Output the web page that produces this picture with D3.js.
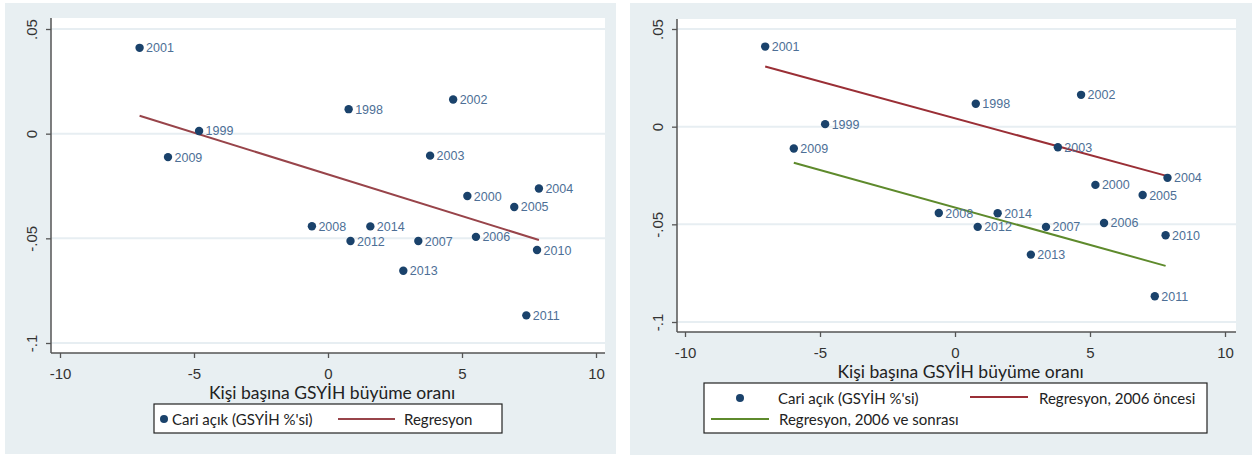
<!DOCTYPE html>
<html><head><meta charset="utf-8">
<script src="https://cdn.jsdelivr.net/npm/d3@7"></script>
<style>
body{margin:0;background:#fff}
svg{display:block}
</style>
</head><body>
<svg id="chart" width="1254" height="456"></svg>
<script>
// Current account balance vs. per-capita GDP growth, 1998-2014
const years   = [1998, 1999, 2000, 2001, 2002, 2003, 2004, 2005, 2006, 2007, 2008, 2009, 2010, 2011, 2012, 2013, 2014];
const growth  = [0.77, -4.81, 5.20, -7.03, 4.67, 3.81, 7.87, 6.95, 5.52, 3.37, -0.60, -5.97, 7.80, 7.40, 0.84, 2.81, 1.58];
const deficit = [0.0117, 0.0013, -0.0298, 0.0410, 0.0163, -0.0105, -0.0262, -0.0350, -0.0493, -0.0513, -0.0442, -0.0112, -0.0556, -0.0868, -0.0513, -0.0655, -0.0443];

const xTicks = [-10, -5, 0, 5, 10];
const xTickLabels = ["-10", "-5", "0", "5", "10"];
const yTicks = [0.05, 0, -0.05, -0.1];
const yTickLabels = [".05", "0", "-.05", "-.1"];
const xDomain = [-10, 10];
const yDomain = [-0.1, 0.05];

const xTitle = "Kişi başına GSYİH büyüme oranı";
const markerName = "Cari açık (GSYİH %'si)";
const fitNames = ["Regresyon", "Regresyon, 2006 öncesi", "Regresyon, 2006 ve sonrası"];

const navy = "#1a426b";
const labelColor = "#4d6f96";
const uiFont = "Lato, 'Open Sans', sans-serif";
const numFont = "'Liberation Sans', Arial, sans-serif";

const points = years.map((y, i) => ({year: y, x: growth[i], y: deficit[i]}));

// Ordinary least squares fit over a subset of points, drawn across its x range
function olsSegment(pts) {
  const mx = d3.mean(pts, d => d.x), my = d3.mean(pts, d => d.y);
  const sxy = d3.sum(pts, d => (d.x - mx) * (d.y - my));
  const sxx = d3.sum(pts, d => (d.x - mx) ** 2);
  const b = sxy / sxx, a = my - b * mx;
  const [x0, x1] = d3.extent(pts, d => d.x);
  return [{x: x0, y: a + b * x0}, {x: x1, y: a + b * x1}];
}

const svg = d3.select("#chart");

const panels = [
  {
    bg: {x: 5, y: 3, w: 611, h: 451},
    plot: {x0: 51, y0: 18, x1: 605, y1: 353},
    xRange: [60, 596], yRange: [343, 29],
    fits: [{name: fitNames[0], pts: points, color: "#98444a"}],
    legend: {x: 154, y: 404, w: 348, h: 29,
      marker: {x: 164, y: 419, tx: 172, ty: 425},
      lines: [{x0: 338, x1: 395, y: 419, tx: 404, ty: 425}]}
  },
  {
    bg: {x: 630, y: 3, w: 622, h: 452},
    plot: {x0: 677, y0: 19, x1: 1236, y1: 332},
    xRange: [685, 1225], yRange: [322, 29],
    fits: [
      {name: fitNames[1], pts: points.filter(d => d.year < 2006), color: "#9a2f36"},
      {name: fitNames[2], pts: points.filter(d => d.year >= 2006), color: "#5e8a2c"}
    ],
    legend: {x: 704, y: 383, w: 503, h: 50,
      marker: {x: 740, y: 398, tx: 778, ty: 404},
      lines: [{x0: 970, x1: 1028, y: 397, tx: 1039, ty: 404},
              {x0: 711, x1: 769, y: 419, tx: 779, ty: 425}]}
  }
];

panels.forEach(p => {
  const g = svg.append("g");
  const x = d3.scaleLinear().domain(xDomain).range(p.xRange);
  const y = d3.scaleLinear().domain(yDomain).range(p.yRange);

  // graph region and plot region
  g.append("rect").attr("x", p.bg.x).attr("y", p.bg.y).attr("width", p.bg.w).attr("height", p.bg.h)
    .attr("fill", "#e8eff2");
  g.append("rect").attr("x", p.plot.x0).attr("y", p.plot.y0)
    .attr("width", p.plot.x1 - p.plot.x0).attr("height", p.plot.y1 - p.plot.y0)
    .attr("fill", "#ffffff");

  // horizontal gridlines
  g.selectAll(".grid").data(yTicks).enter().append("line")
    .attr("x1", p.plot.x0).attr("x2", p.plot.x1)
    .attr("y1", d => y(d)).attr("y2", d => y(d))
    .attr("stroke", "#e7eef2").attr("stroke-width", 2);

  // y axis
  const yAxis = d3.axisLeft(y).tickValues(yTicks).tickSize(5).tickFormat((d, i) => yTickLabels[i]);
  const ya = g.append("g").attr("transform", `translate(${p.plot.x0},0)`).call(yAxis);
  ya.select(".domain").remove();
  ya.selectAll(".tick line").attr("stroke", "#555").attr("stroke-width", 1.3);
  ya.selectAll(".tick text")
    .attr("x", null).attr("dy", null)
    .attr("transform", "translate(-14,0) rotate(-90)")
    .attr("text-anchor", "middle")
    .attr("font-family", numFont).attr("font-size", 15).attr("fill", "#333");
  g.append("line").attr("x1", p.plot.x0).attr("x2", p.plot.x0)
    .attr("y1", p.plot.y0).attr("y2", p.plot.y1)
    .attr("stroke", "#555").attr("stroke-width", 1.5);

  // x axis
  const xAxis = d3.axisBottom(x).tickValues(xTicks).tickSize(5).tickFormat((d, i) => xTickLabels[i]);
  const xa = g.append("g").attr("transform", `translate(0,${p.plot.y1})`).call(xAxis);
  xa.select(".domain").remove();
  xa.selectAll(".tick line").attr("stroke", "#555").attr("stroke-width", 1.3);
  xa.selectAll(".tick text")
    .attr("y", 26).attr("dy", null)
    .attr("font-family", numFont).attr("font-size", 15).attr("fill", "#333");
  g.append("line").attr("x1", p.plot.x0).attr("x2", p.plot.x1)
    .attr("y1", p.plot.y1).attr("y2", p.plot.y1)
    .attr("stroke", "#555").attr("stroke-width", 1.5);

  // x axis title
  g.append("text").attr("x", (p.plot.x0 + p.plot.x1) / 2 + 4).attr("y", p.plot.y1 + 46)
    .attr("text-anchor", "middle").attr("font-family", uiFont).attr("font-size", 17.5)
    .attr("fill", "#222").text(xTitle);

  // fitted lines
  const line = d3.line().x(d => x(d.x)).y(d => y(d.y));
  p.fits.forEach(f => {
    g.append("path").datum(olsSegment(f.pts)).attr("d", line)
      .attr("fill", "none").attr("stroke", f.color).attr("stroke-width", 2);
  });

  // markers and year labels
  g.selectAll(".pt").data(points).enter().append("circle")
    .attr("cx", d => x(d.x)).attr("cy", d => y(d.y)).attr("r", 4.2).attr("fill", navy);
  g.selectAll(".lbl").data(points).enter().append("text")
    .attr("x", d => x(d.x) + 6.5).attr("y", d => y(d.y)).attr("dy", "0.36em")
    .attr("font-family", numFont).attr("font-size", 12.5).attr("fill", labelColor)
    .text(d => d.year);

  // legend
  const L = p.legend;
  g.append("rect").attr("x", L.x).attr("y", L.y).attr("width", L.w).attr("height", L.h)
    .attr("fill", "#fff").attr("stroke", "#222").attr("stroke-width", 1.2);
  g.append("circle").attr("cx", L.marker.x).attr("cy", L.marker.y).attr("r", 4).attr("fill", navy);
  g.append("text").attr("x", L.marker.tx).attr("y", L.marker.ty)
    .attr("font-family", uiFont).attr("font-size", 15).attr("fill", "#222").text(markerName);
  L.lines.forEach((k, i) => {
    const f = p.fits[i];
    g.append("line").attr("x1", k.x0).attr("x2", k.x1).attr("y1", k.y).attr("y2", k.y)
      .attr("stroke", f.color).attr("stroke-width", 2);
    g.append("text").attr("x", k.tx).attr("y", k.ty)
      .attr("font-family", uiFont).attr("font-size", 15).attr("fill", "#222").text(f.name);
  });
});
</script>
</body></html>
